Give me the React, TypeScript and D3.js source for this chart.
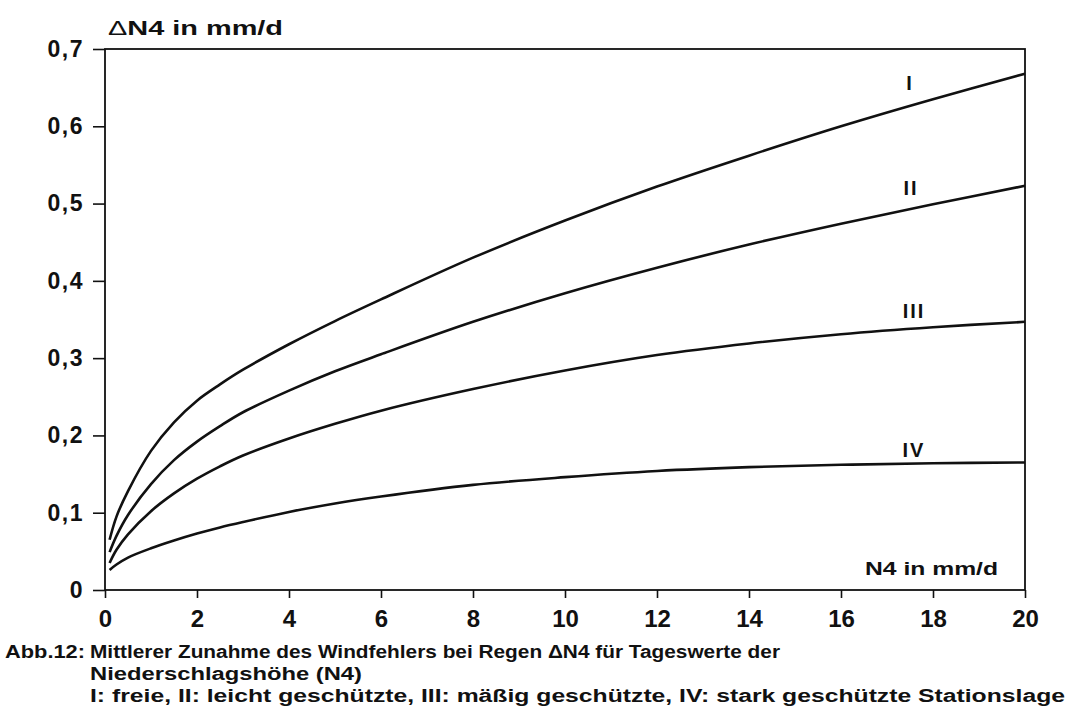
import { useEffect, useRef } from 'react';
import * as d3 from 'd3';

// N4 (mm/d) sample points
const n4 = [0.1, 0.25, 0.5, 1, 1.5, 2, 2.5, 3, 4, 5, 6, 8, 10, 12, 14, 16, 18, 20];
const curveI = [0.065, 0.095, 0.128, 0.18, 0.217, 0.245, 0.266, 0.285, 0.318, 0.348, 0.376, 0.43, 0.478, 0.522, 0.562, 0.6, 0.635, 0.668];
const curveII = [0.049, 0.07, 0.097, 0.137, 0.168, 0.192, 0.212, 0.23, 0.258, 0.283, 0.305, 0.347, 0.384, 0.417, 0.447, 0.474, 0.499, 0.523];
const curveIII = [0.035, 0.052, 0.072, 0.102, 0.125, 0.144, 0.16, 0.174, 0.196, 0.215, 0.232, 0.26, 0.284, 0.304, 0.319, 0.331, 0.34, 0.347];
const curveIV = [0.026, 0.033, 0.042, 0.054, 0.064, 0.073, 0.081, 0.088, 0.101, 0.112, 0.121, 0.136, 0.146, 0.154, 0.159, 0.162, 0.164, 0.165];
const seriesNames = ['I', 'II', 'III', 'IV'];
const xTicks = [0, 2, 4, 6, 8, 10, 12, 14, 16, 18, 20];
const yTicks = [0, 0.1, 0.2, 0.3, 0.4, 0.5, 0.6, 0.7];
const captionLines = [
  'Mittlerer Zunahme des Windfehlers bei Regen \u0394N4 für Tageswerte der',
  'Niederschlagshöhe (N4)',
  'I: freie, II: leicht geschützte, III: mäßig geschützte, IV: stark geschützte Stationslage',
];

const width = 1082,
  height = 722,
  marginLeft = 105,
  marginRight = 57,
  marginTop = 49,
  marginBottom = 132;

const font = '"Liberation Sans", Arial, sans-serif';

export default function App() {
  const gx = useRef<SVGGElement>(null),
    gy = useRef<SVGGElement>(null);

  const x = d3.scaleLinear().domain([0, 20]).range([marginLeft, width - marginRight]);
  const y = d3.scaleLinear().domain([0, 0.7]).range([height - marginBottom, marginTop]);

  const line = d3
    .line<[number, number]>()
    .x((d) => x(d[0]))
    .y((d) => y(d[1]))
    .curve(d3.curveCatmullRom.alpha(0.5));

  const series = [curveI, curveII, curveIII, curveIV].map((vals) =>
    n4.map((v, i) => [v, vals[i]] as [number, number])
  );

  useEffect(() => {
    const ax = d3
      .select(gx.current)
      .call(
        d3
          .axisBottom(x)
          .tickValues(xTicks)
          .tickSize(8)
          .tickSizeOuter(0)
          .tickPadding(12)
          .tickFormat((d) => String(d))
      );
    ax.select('.domain').remove();
    ax.selectAll('line').attr('stroke', '#111').attr('stroke-width', 1.6);
    ax.selectAll('text')
      .attr('font-family', font)
      .attr('font-weight', 'bold')
      .attr('font-size', 24)
      .attr('fill', '#111');

    const ay = d3
      .select(gy.current)
      .call(
        d3
          .axisLeft(y)
          .tickValues(yTicks)
          .tickSize(12)
          .tickSizeOuter(0)
          .tickPadding(9)
          .tickFormat((d) => d3.format('.1~f')(+d).replace('.', ','))
      );
    ay.select('.domain').remove();
    ay.selectAll('line').attr('stroke', '#111').attr('stroke-width', 1.6);
    ay.selectAll('text')
      .attr('font-family', font)
      .attr('font-weight', 'bold')
      .attr('font-size', 23)
      .attr('letter-spacing', 1.5)
      .attr('fill', '#111');
  }, []);

  const labelPos = [
    { x: 910, y: 90 },
    { x: 911, y: 195 },
    { x: 914, y: 318 },
    { x: 914, y: 457 },
  ];

  return (
    <svg
      width={width}
      height={height}
      viewBox={`0 0 ${width} ${height}`}
      style={{ position: 'absolute', left: 0, top: 0, background: '#fff' }}
    >
      <rect
        x={x(0)}
        y={y(0.7)}
        width={x(20) - x(0)}
        height={y(0) - y(0.7)}
        fill="none"
        stroke="#111"
        strokeWidth={1.8}
      />
      <g ref={gx} transform={`translate(0,${y(0)})`} />
      <g ref={gy} transform={`translate(${x(0)},0)`} />

      {series.map((s, i) => (
        <path key={i} d={line(s) ?? ''} fill="none" stroke="#111" strokeWidth={2.6} />
      ))}

      {seriesNames.map((name, i) => (
        <text
          key={name}
          x={labelPos[i].x}
          y={labelPos[i].y}
          textAnchor="middle"
          fontFamily={font}
          fontWeight="bold"
          fontSize={20}
          letterSpacing={2}
          fill="#111"
        >
          {name}
        </text>
      ))}

      <text x={108} y={35} fontFamily={font} fontWeight="bold" fontSize={21} fill="#111" textLength={175} lengthAdjust="spacingAndGlyphs">
        <tspan fontWeight="normal">{'\u0394'}</tspan>N4 in mm/d
      </text>

      <text x={865} y={575} fontFamily={font} fontWeight="bold" fontSize={18} fill="#111" textLength={133} lengthAdjust="spacingAndGlyphs">
        N4 in mm/d
      </text>

      <text x={5} y={658} fontFamily={font} fontWeight="bold" fontSize={18} fill="#111" textLength={80} lengthAdjust="spacingAndGlyphs">
        Abb.12:
      </text>
      {captionLines.map((t, i) => (
        <text
          key={i}
          x={90}
          y={658 + i * 22}
          fontFamily={font}
          fontWeight="bold"
          fontSize={18}
          fill="#111"
          textLength={[690, 272, 975][i]}
          lengthAdjust="spacingAndGlyphs"
        >
          {t}
        </text>
      ))}
    </svg>
  );
}
